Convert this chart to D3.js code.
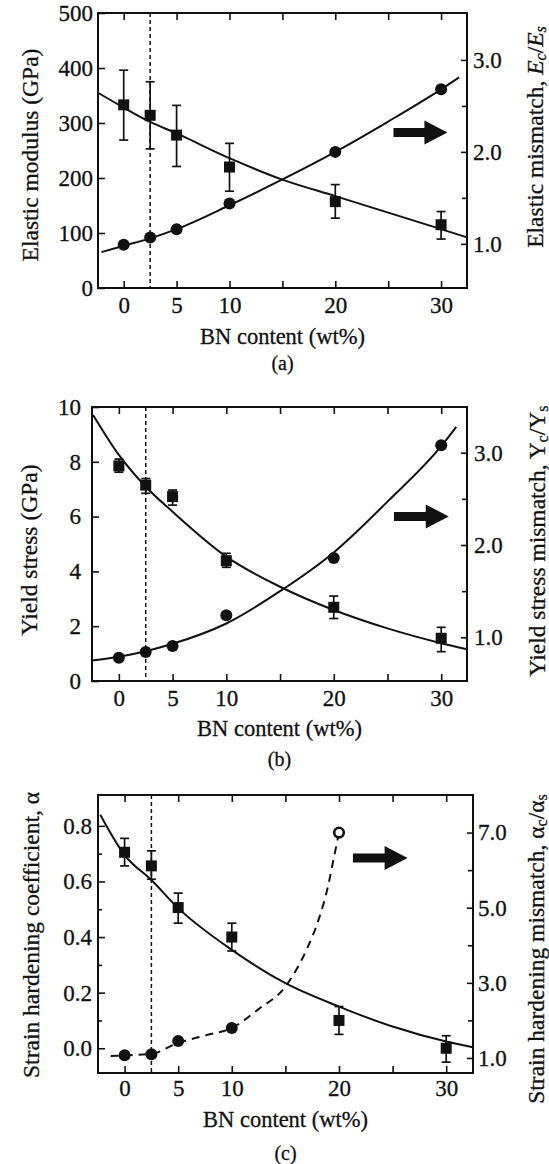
<!DOCTYPE html>
<html>
<head>
<meta charset="utf-8">
<script src="https://cdn.jsdelivr.net/npm/d3@7"></script>
<style>
  body { margin: 0; background: #fff; }
  svg text { font-family: "Liberation Serif", "Times New Roman", serif; fill: #111; stroke: #111; stroke-width: 0.3px; }
</style>
</head>
<body>
<svg id="chart"></svg>
<script>
// shared x data
const bnContent = [0, 2.5, 5, 10, 20, 30];
const bnContentAlpha = [0, 2.5, 5, 10, 20];
const xTicks = [0, 5, 10, 15, 20, 25, 30];
const xTickLabels = [0, 5, 10, 20, 30];
const substrateBN = 2.5;

// (a) elastic modulus
const modulus = [333, 314, 278, 220, 157, 115];
const modulusLow = [269, 253, 221, 176, 127, 89];
const modulusHigh = [396, 375, 332, 263, 188, 139];
const modulusFit = [[-2.43, 355], [0, 328], [2.5, 302], [5, 281], [10, 236], [15, 197], [20, 167], [25, 137], [30, 107], [32.45, 92]];
const elasticMismatch = [0.99, 1.07, 1.16, 1.44, 2.0, 2.68];
const elasticMismatchFit = [[-2.1, 0.91], [0, 0.98], [2.5, 1.06], [5, 1.16], [10, 1.42], [15, 1.70], [20, 2.0], [25, 2.33], [30, 2.68], [31.7, 2.81]];
const modulusTicks = [0, 100, 200, 300, 400, 500];
const elasticMismatchTicks = [1.0, 2.0, 3.0];
const elasticMismatchMinor = [1.5, 2.5];

// (b) yield stress
const yieldStress = [7.85, 7.15, 6.73, 4.39, 2.69, 1.56];
const yieldLow = [7.62, 6.85, 6.42, 4.15, 2.28, 1.07];
const yieldHigh = [8.1, 7.39, 6.97, 4.66, 3.1, 1.96];
const yieldFit = [[-2.4, 9.71], [0, 8.25], [2.5, 7.09], [5, 6.18], [10, 4.54], [15, 3.44], [20, 2.59], [25, 1.92], [30, 1.38], [32.4, 1.16]];
const yieldMismatch = [0.78, 0.84, 0.905, 1.24, 1.86, 3.08];
const yieldMismatchFit = [[-2.5, 0.75], [0, 0.79], [2.5, 0.85], [5, 0.93], [10, 1.15], [15, 1.50], [20, 1.92], [25, 2.47], [30, 3.07], [31.4, 3.28]];
const yieldTicks = [0, 2, 4, 6, 8, 10];
const yieldMismatchTicks = [1.0, 2.0, 3.0];
const yieldMismatchMinor = [1.5, 2.5];

// (c) strain hardening
const alpha = [0.705, 0.656, 0.506, 0.40, 0.10, 0.0];
const alphaLow = [0.656, 0.608, 0.45, 0.35, 0.05, -0.05];
const alphaHigh = [0.755, 0.71, 0.558, 0.45, 0.15, 0.045];
const alphaFit = [[-2.27, 0.84], [0, 0.695], [2.5, 0.605], [5, 0.504], [10, 0.354], [15, 0.234], [20, 0.15], [25, 0.078], [30, 0.024], [32.5, 0.004]];
const alphaMismatch = [1.07, 1.10, 1.45, 1.8, 7.0];
const alphaMismatchFit = [[-1.3, 1.05], [0, 1.07], [2.5, 1.11], [5, 1.4], [7.5, 1.6], [10, 1.8], [12.5, 2.3], [15, 2.9], [17, 3.9], [18, 4.6], [19, 5.6], [19.5, 6.3], [20, 7.0]];
const alphaTicks = [0, 0.2, 0.4, 0.6, 0.8];
const alphaMinor = [0.1, 0.3, 0.5, 0.7];
const alphaMismatchTicks = [1, 3, 5, 7];
const alphaMismatchMinor = [2, 4, 6];

const width = 549;
const height = 1164;

const svg = d3.select("#chart")
  .attr("width", width)
  .attr("height", height)
  .style("background", "#fff");

const panels = [
  {
    left: 98, right: 467, top: 13, bottom: 288,
    xDomain: [-2.43, 32.45], leftDomain: [0, 500], rightDomain: [0.52, 3.51],
    values: modulus, low: modulusLow, high: modulusHigh, fit: modulusFit,
    mismatchX: bnContent, mismatch: elasticMismatch, mismatchFit: elasticMismatchFit, mismatchDash: null,
    leftTicks: modulusTicks, leftMinor: [], leftFormat: d3.format("d"),
    rightTicks: elasticMismatchTicks, rightMinor: elasticMismatchMinor, rightFormat: d3.format(".1f"),
    xPad: 9, leftPad: 5, rightPad: 6,
    arrow: { x0: 25.5, x1: 30.6, y: 2.21 },
    xTitleY: 344, letterY: 370, letter: "(a)",
    leftTitle: { x: 30, y: 155, parts: [{ t: "Elastic modulus (GPa)" }] },
    rightTitle: { x: 535, y: 137, parts: [{ t: "Elastic mismatch, " }, { t: "E", i: true }, { t: "c", sub: true, i: true }, { t: "/" }, { t: "E", i: true }, { t: "s", sub: true, i: true }] }
  },
  {
    left: 92, right: 467, top: 407, bottom: 681,
    xDomain: [-2.5, 32.4], leftDomain: [0, 10], rightDomain: [0.527, 3.495],
    values: yieldStress, low: yieldLow, high: yieldHigh, fit: yieldFit,
    mismatchX: bnContent, mismatch: yieldMismatch, mismatchFit: yieldMismatchFit, mismatchDash: null,
    leftTicks: yieldTicks, leftMinor: [], leftFormat: d3.format("d"),
    rightTicks: yieldMismatchTicks, rightMinor: yieldMismatchMinor, rightFormat: d3.format(".1f"),
    xPad: 9, leftPad: 11, rightPad: 7,
    arrow: { x0: 25.6, x1: 30.7, y: 2.31 },
    xTitleY: 736, letterY: 766, letter: "(b)",
    leftTitle: { x: 29, y: 550, parts: [{ t: "Yield stress (GPa)" }] },
    rightTitle: { x: 537, y: 541, parts: [{ t: "Yield stress mismatch, Y" }, { t: "c", sub: true }, { t: "/Y" }, { t: "s", sub: true }] }
  },
  {
    left: 98, right: 473, top: 795, bottom: 1073,
    xDomain: [-2.48, 32.5], leftDomain: [-0.089, 0.911], rightDomain: [0.6, 8.0],
    values: alpha, low: alphaLow, high: alphaHigh, fit: alphaFit,
    mismatchX: bnContentAlpha, mismatch: alphaMismatch, mismatchFit: alphaMismatchFit, mismatchDash: "8,6",
    leftTicks: alphaTicks, leftMinor: alphaMinor, leftFormat: d3.format(".1f"),
    rightTicks: alphaMismatchTicks, rightMinor: alphaMismatchMinor, rightFormat: d3.format(".1f"),
    xPad: 7, leftPad: 6, rightPad: 5,
    arrow: { x0: 21.3, x1: 26.4, y: 6.32 },
    openLast: true,
    xTitleY: 1126.5, letterY: 1160, letter: "(c)",
    leftTitle: { x: 31, y: 935, parts: [{ t: "Strain hardening coefficient, α" }] },
    rightTitle: { x: 536, y: 949, parts: [{ t: "Strain hardening mismatch, α" }, { t: "c", sub: true }, { t: "/α" }, { t: "s", sub: true }] }
  }
];

function styleAxis(sel) {
  sel.select(".domain").remove();
  sel.selectAll(".tick line").attr("stroke", "#111").attr("stroke-width", 1.6);
  sel.selectAll(".tick text").attr("font-size", 23);
}

function addTitle(g, t) {
  const text = g.append("text")
    .attr("transform", `translate(${t.x},${t.y}) rotate(-90)`)
    .attr("text-anchor", "middle")
    .attr("dominant-baseline", "central")
    .attr("font-size", 23.5);
  let shifted = false;
  t.parts.forEach(p => {
    const span = text.append("tspan").text(p.t);
    if (p.i) span.attr("font-style", "italic");
    if (p.sub) {
      span.attr("font-size", 16).attr("dy", 5);
      shifted = true;
    } else if (shifted) {
      span.attr("dy", -5);
      shifted = false;
    }
  });
}

panels.forEach(p => {
  const x = d3.scaleLinear().domain(p.xDomain).range([p.left, p.right]);
  const yL = d3.scaleLinear().domain(p.leftDomain).range([p.bottom, p.top]);
  const yR = d3.scaleLinear().domain(p.rightDomain).range([p.bottom, p.top]);
  const g = svg.append("g");

  // axes, ticks pointing inward
  g.append("g")
    .attr("transform", `translate(0,${p.bottom})`)
    .call(d3.axisBottom(x).tickValues(xTicks).tickSizeInner(-7).tickSizeOuter(0).tickPadding(p.xPad)
      .tickFormat(d => xTickLabels.includes(d) ? d : ""))
    .call(styleAxis);

  g.append("g")
    .attr("transform", `translate(0,${p.top})`)
    .call(d3.axisTop(x).tickValues(xTicks).tickSizeInner(-7).tickSizeOuter(0).tickFormat(""))
    .call(styleAxis);

  g.append("g")
    .attr("transform", `translate(${p.left},0)`)
    .call(d3.axisLeft(yL).tickValues(p.leftTicks).tickSizeInner(-7).tickSizeOuter(0).tickPadding(p.leftPad)
      .tickFormat(p.leftFormat))
    .call(styleAxis);

  g.append("g")
    .attr("transform", `translate(${p.left},0)`)
    .call(d3.axisLeft(yL).tickValues(p.leftMinor).tickSizeInner(-4).tickSizeOuter(0).tickFormat(""))
    .call(styleAxis);

  g.append("g")
    .attr("transform", `translate(${p.right},0)`)
    .call(d3.axisRight(yR).tickValues(p.rightTicks).tickSizeInner(-6).tickSizeOuter(0).tickPadding(p.rightPad)
      .tickFormat(p.rightFormat))
    .call(styleAxis);

  g.append("g")
    .attr("transform", `translate(${p.right},0)`)
    .call(d3.axisRight(yR).tickValues(p.rightMinor).tickSizeInner(-5).tickSizeOuter(0).tickFormat(""))
    .call(styleAxis);

  // frame
  g.append("rect")
    .attr("x", p.left)
    .attr("y", p.top)
    .attr("width", p.right - p.left)
    .attr("height", p.bottom - p.top)
    .attr("fill", "none")
    .attr("stroke", "#111")
    .attr("stroke-width", 2);

  // substrate composition
  g.append("line")
    .attr("x1", x(substrateBN)).attr("x2", x(substrateBN))
    .attr("y1", p.top).attr("y2", p.bottom)
    .attr("stroke", "#111")
    .attr("stroke-width", 1.5)
    .attr("stroke-dasharray", "4,3");

  // fitted curves
  g.append("path")
    .datum(p.fit)
    .attr("fill", "none")
    .attr("stroke", "#111")
    .attr("stroke-width", 2)
    .attr("d", d3.line().x(d => x(d[0])).y(d => yL(d[1])).curve(d3.curveMonotoneX));

  g.append("path")
    .datum(p.mismatchFit)
    .attr("fill", "none")
    .attr("stroke", "#111")
    .attr("stroke-width", 2)
    .attr("stroke-dasharray", p.mismatchDash)
    .attr("d", d3.line().x(d => x(d[0])).y(d => yR(d[1])).curve(d3.curveMonotoneX));

  // error bars
  const bars = g.selectAll(".err")
    .data(bnContent.map((bn, i) => ({ bn, lo: p.low[i], hi: p.high[i] })))
    .enter()
    .append("g")
    .attr("stroke", "#111")
    .attr("stroke-width", 1.7);
  bars.append("line")
    .attr("x1", d => x(d.bn)).attr("x2", d => x(d.bn))
    .attr("y1", d => yL(d.lo)).attr("y2", d => yL(d.hi));
  bars.append("line")
    .attr("x1", d => x(d.bn) - 4.5).attr("x2", d => x(d.bn) + 4.5)
    .attr("y1", d => yL(d.lo)).attr("y2", d => yL(d.lo));
  bars.append("line")
    .attr("x1", d => x(d.bn) - 4.5).attr("x2", d => x(d.bn) + 4.5)
    .attr("y1", d => yL(d.hi)).attr("y2", d => yL(d.hi));

  // squares: left axis
  g.selectAll(".sq")
    .data(bnContent.map((bn, i) => ({ bn, v: p.values[i] })))
    .enter()
    .append("rect")
    .attr("x", d => x(d.bn) - 5.5)
    .attr("y", d => yL(d.v) - 5.5)
    .attr("width", 11)
    .attr("height", 11)
    .attr("fill", "#111");

  // circles: right axis
  g.selectAll(".dot")
    .data(p.mismatchX.map((bn, i) => ({ bn, v: p.mismatch[i], open: p.openLast && i === p.mismatchX.length - 1 })))
    .enter()
    .append("circle")
    .attr("cx", d => x(d.bn))
    .attr("cy", d => yR(d.v))
    .attr("r", d => d.open ? 4.8 : 6)
    .attr("fill", d => d.open ? "#fff" : "#111")
    .attr("stroke", "#111")
    .attr("stroke-width", d => d.open ? 2.6 : 0);

  // arrow pointing to the right axis
  const a = p.arrow;
  const ax0 = x(a.x0), ax1 = x(a.x1), ay = yR(a.y);
  const headStart = ax1 - 23;
  g.append("path")
    .attr("d", `M${ax0},${ay - 4.5}L${headStart},${ay - 4.5}L${headStart},${ay - 12}L${ax1},${ay}L${headStart},${ay + 12}L${headStart},${ay + 4.5}L${ax0},${ay + 4.5}Z`)
    .attr("fill", "#111");

  // titles
  const cx = (p.left + p.right) / 2;
  g.append("text")
    .attr("x", cx)
    .attr("y", p.xTitleY)
    .attr("text-anchor", "middle")
    .attr("font-size", 22.5)
    .text("BN content (wt%)");

  g.append("text")
    .attr("x", cx)
    .attr("y", p.letterY)
    .attr("text-anchor", "middle")
    .attr("font-size", 20)
    .text(p.letter);

  addTitle(g, p.leftTitle);
  addTitle(g, p.rightTitle);
});
</script>
</body>
</html>
